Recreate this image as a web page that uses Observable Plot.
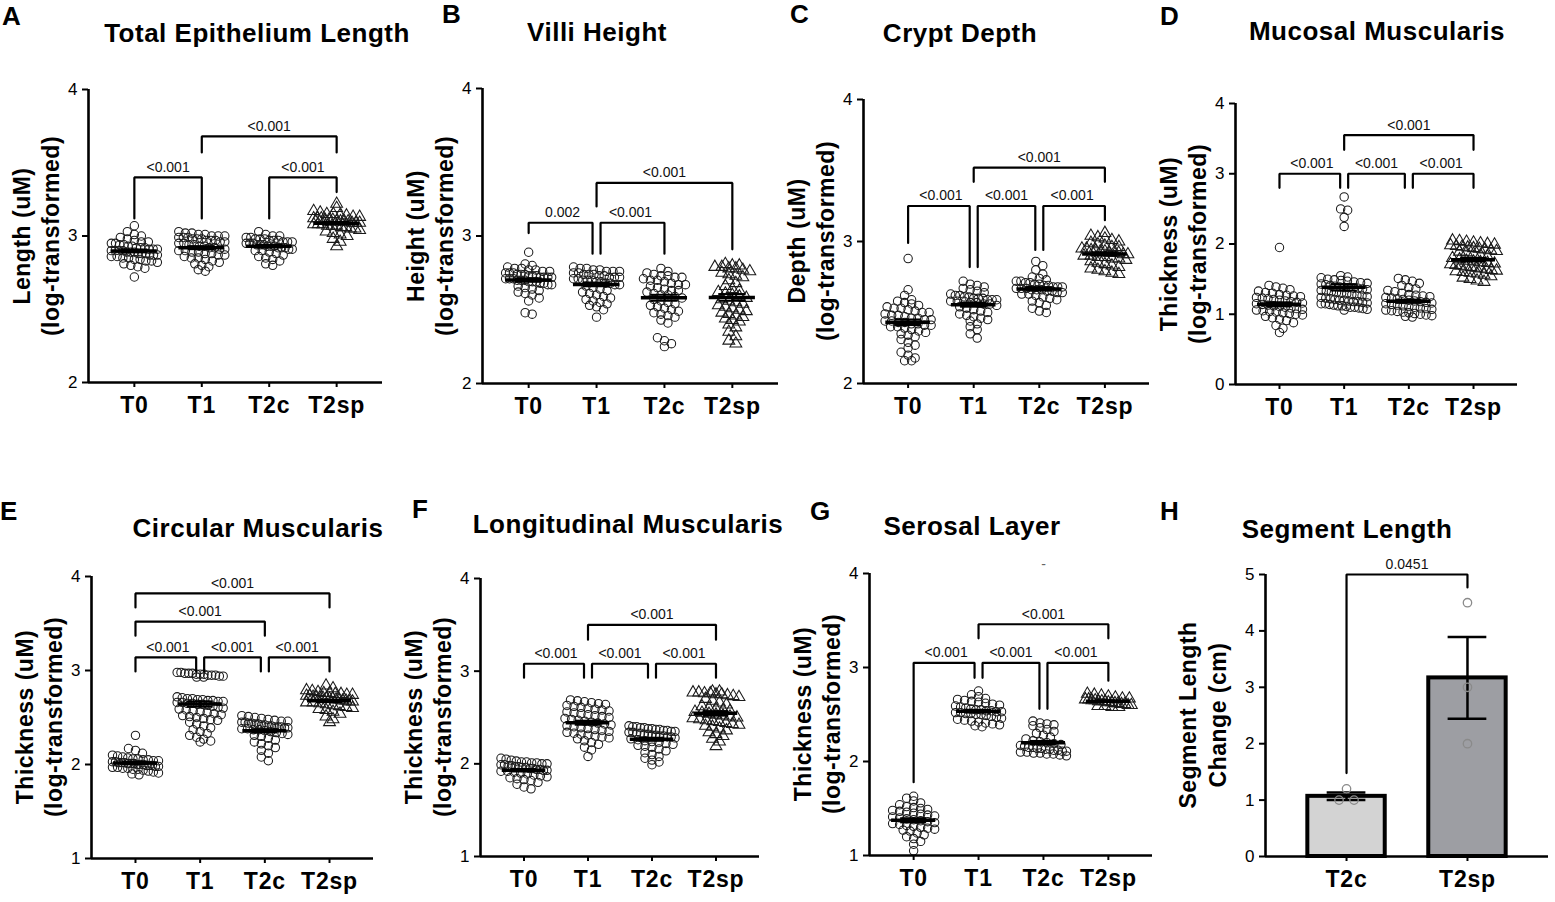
<!DOCTYPE html>
<html><head><meta charset="utf-8">
<script src="https://cdn.jsdelivr.net/npm/d3@7"></script>
<script src="https://cdn.jsdelivr.net/npm/@observablehq/plot@0.6"></script>
<style>
body{margin:0;background:#fff;font-family:"Liberation Sans",Arial,Helvetica,sans-serif;color:#000;}
#root{position:relative;width:1555px;height:902px;overflow:hidden;background:#fff;}
.lbl{position:absolute;font-weight:bold;font-size:26px;line-height:1;}
.ttl{position:absolute;font-weight:bold;font-size:26px;letter-spacing:0.5px;white-space:nowrap;transform:translateX(-50%);line-height:1;}
.ytl{position:absolute;font-weight:bold;font-size:23px;letter-spacing:0.5px;white-space:nowrap;transform:translate(-50%,-50%) rotate(-90deg);line-height:1;}
svg.pp{position:absolute;overflow:visible;}
svg.pp g[aria-label="x-axis tick label"]{letter-spacing:0.8px;font-size:23px;font-weight:bold;}
svg.pp g[aria-label="y-axis tick label"]{font-size:17px;}
svg.pp g[aria-label="text"]{font-size:14px;}
</style></head>
<body><div id="root"></div>
<script>
// ---------- data ----------
const groups = ["T0", "T1", "T2c", "T2sp"];
const segGroups = ["T2c", "T2sp"];
const panelLetters = ["A", "B", "C", "D", "E", "F", "G", "H"];
const panelTitles = ["Total Epithelium Length", "Villi Height", "Crypt Depth", "Mucosal Muscularis",
  "Circular Muscularis", "Longitudinal Muscularis", "Serosal Layer", "Segment Length"];
const yTitles = [["Length (uM)", "(log-transformed)"], ["Height (uM)", "(log-transformed)"],
  ["Depth (uM)", "(log-transformed)"], ["Thickness (uM)", "(log-transformed)"],
  ["Thickness (uM)", "(log-transformed)"], ["Thickness (uM)", "(log-transformed)"],
  ["Thickness (uM)", "(log-transformed)"], ["Segment Length", "Change (cm)"]];
const ticks24 = [2, 3, 4];
const ticks04 = [0, 1, 2, 3, 4];
const ticks14 = [1, 2, 3, 4];
const ticks05 = [0, 1, 2, 3, 4, 5];

// A: Total Epithelium Length
const epiT0 = [3.07,3.03,3.01,3.00,2.99,2.98,2.97,2.96,2.96,2.95,2.95,2.94,2.94,2.93,2.93,2.92,2.92,2.92,2.91,2.91,2.91,2.90,2.90,2.90,2.90,2.89,2.89,2.89,2.88,2.88,2.88,2.87,2.87,2.87,2.86,2.86,2.85,2.85,2.84,2.84,2.83,2.83,2.82,2.81,2.80,2.79,2.78,2.72];
const epiT1 = [3.03,3.02,3.02,3.01,3.01,3.00,3.00,3.00,2.99,2.99,2.99,2.98,2.98,2.98,2.97,2.97,2.97,2.96,2.96,2.95,2.95,2.94,2.94,2.93,2.93,2.92,2.92,2.91,2.91,2.90,2.90,2.89,2.89,2.88,2.88,2.87,2.87,2.86,2.85,2.85,2.84,2.83,2.82,2.81,2.80,2.79,2.77,2.76];
const epiT2c = [3.03,3.01,3.00,3.00,2.99,2.99,2.98,2.98,2.98,2.97,2.97,2.97,2.96,2.96,2.96,2.95,2.95,2.95,2.94,2.94,2.94,2.93,2.93,2.93,2.92,2.92,2.92,2.91,2.91,2.90,2.90,2.89,2.88,2.87,2.86,2.85,2.84,2.83,2.81,2.80];
const epiT2sp = [3.22,3.19,3.17,3.16,3.15,3.15,3.14,3.14,3.13,3.13,3.12,3.12,3.12,3.11,3.11,3.11,3.10,3.10,3.10,3.10,3.09,3.09,3.09,3.08,3.08,3.08,3.07,3.07,3.07,3.06,3.06,3.05,3.05,3.04,3.03,3.02,3.01,3.00,2.98,2.96,2.93];

// B: Villi Height
const villiT0 = [2.89,2.81,2.80,2.79,2.78,2.78,2.77,2.77,2.76,2.76,2.75,2.75,2.75,2.74,2.74,2.74,2.73,2.73,2.73,2.72,2.72,2.72,2.72,2.71,2.71,2.71,2.70,2.70,2.70,2.69,2.69,2.69,2.68,2.68,2.67,2.67,2.66,2.65,2.64,2.63,2.62,2.61,2.60,2.58,2.56,2.48,2.47];
const villiT1 = [2.79,2.78,2.78,2.77,2.77,2.76,2.76,2.76,2.75,2.75,2.74,2.74,2.74,2.73,2.73,2.72,2.72,2.72,2.71,2.71,2.70,2.70,2.70,2.69,2.69,2.68,2.68,2.67,2.67,2.66,2.65,2.64,2.63,2.62,2.61,2.60,2.59,2.58,2.57,2.56,2.55,2.54,2.53,2.52,2.50,2.45];
const villiT2c = [2.78,2.76,2.75,2.74,2.73,2.73,2.72,2.72,2.71,2.70,2.70,2.69,2.68,2.67,2.67,2.66,2.65,2.64,2.63,2.63,2.62,2.61,2.60,2.60,2.59,2.58,2.57,2.56,2.55,2.54,2.53,2.52,2.51,2.50,2.49,2.48,2.47,2.46,2.45,2.43,2.41,2.31,2.29,2.27,2.25];
const villiT2sp = [2.81,2.80,2.80,2.79,2.79,2.78,2.78,2.77,2.76,2.75,2.74,2.73,2.72,2.70,2.68,2.66,2.64,2.63,2.62,2.61,2.60,2.59,2.58,2.57,2.56,2.55,2.54,2.53,2.52,2.51,2.50,2.49,2.48,2.47,2.46,2.45,2.44,2.43,2.42,2.40,2.38,2.35,2.32,2.29,2.27];

// C: Crypt Depth
const cryptT0 = [2.88,2.66,2.62,2.59,2.58,2.57,2.56,2.55,2.54,2.53,2.53,2.52,2.51,2.50,2.50,2.49,2.48,2.48,2.47,2.46,2.46,2.45,2.45,2.44,2.44,2.43,2.43,2.42,2.42,2.41,2.41,2.40,2.40,2.39,2.38,2.37,2.36,2.35,2.34,2.33,2.31,2.29,2.27,2.25,2.22,2.20,2.18,2.16,2.16];
const cryptT1 = [2.72,2.70,2.69,2.68,2.67,2.66,2.65,2.64,2.63,2.62,2.62,2.61,2.61,2.60,2.60,2.60,2.59,2.59,2.59,2.58,2.58,2.58,2.57,2.57,2.56,2.56,2.55,2.54,2.53,2.52,2.51,2.50,2.49,2.48,2.47,2.46,2.45,2.44,2.42,2.40,2.38,2.35,2.32];
const cryptT2c = [2.86,2.83,2.80,2.77,2.75,2.74,2.73,2.72,2.72,2.71,2.71,2.70,2.70,2.69,2.69,2.68,2.68,2.68,2.67,2.67,2.67,2.66,2.66,2.66,2.65,2.65,2.64,2.64,2.63,2.63,2.62,2.61,2.60,2.59,2.58,2.57,2.55,2.53,2.51,2.50];
const cryptT2sp = [3.06,3.04,3.03,3.02,3.01,3.00,2.99,2.98,2.97,2.96,2.96,2.95,2.95,2.94,2.94,2.93,2.93,2.92,2.92,2.92,2.91,2.91,2.90,2.90,2.89,2.89,2.88,2.88,2.87,2.86,2.85,2.84,2.83,2.82,2.81,2.80,2.79,2.78,2.77];

// D: Mucosal Muscularis
const mucT0 = [1.95,1.41,1.39,1.37,1.35,1.33,1.31,1.30,1.28,1.27,1.26,1.25,1.24,1.23,1.22,1.21,1.20,1.19,1.18,1.17,1.16,1.15,1.14,1.13,1.12,1.11,1.10,1.09,1.08,1.07,1.06,1.05,1.04,1.03,1.02,1.01,1.00,0.99,0.97,0.95,0.93,0.91,0.88,0.84,0.80,0.74];
const mucT1 = [2.67,2.50,2.48,2.38,2.25,1.55,1.53,1.52,1.50,1.49,1.48,1.47,1.46,1.45,1.44,1.43,1.42,1.41,1.40,1.39,1.38,1.38,1.37,1.37,1.36,1.35,1.34,1.33,1.32,1.31,1.30,1.29,1.28,1.27,1.26,1.25,1.24,1.23,1.22,1.21,1.20,1.20,1.19,1.18,1.18,1.17,1.16,1.15,1.15,1.14,1.13,1.12,1.12,1.11,1.10,1.10,1.09,1.08,1.07,1.06];
const mucT2c = [1.51,1.49,1.47,1.44,1.41,1.38,1.36,1.34,1.32,1.30,1.28,1.27,1.26,1.25,1.24,1.23,1.22,1.21,1.20,1.19,1.18,1.17,1.16,1.15,1.14,1.13,1.12,1.11,1.10,1.09,1.08,1.07,1.06,1.05,1.04,1.03,1.02,1.01,1.00,0.99,0.98,0.97,0.96];
const mucT2sp = [2.05,2.04,2.03,2.02,2.01,2.00,1.99,1.98,1.97,1.96,1.95,1.94,1.93,1.92,1.91,1.90,1.89,1.88,1.86,1.84,1.82,1.80,1.78,1.76,1.75,1.74,1.73,1.72,1.71,1.70,1.69,1.68,1.67,1.66,1.65,1.64,1.63,1.62,1.61,1.60,1.59,1.58,1.56,1.54,1.52,1.50,1.48,1.46];

// E: Circular Muscularis
const circT0 = [2.31,2.17,2.15,2.12,2.10,2.09,2.08,2.07,2.06,2.06,2.05,2.05,2.04,2.04,2.03,2.03,2.02,2.02,2.02,2.01,2.01,2.01,2.00,2.00,2.00,1.99,1.99,1.99,1.98,1.98,1.97,1.97,1.96,1.96,1.95,1.95,1.94,1.93,1.92,1.91,1.90,1.89];
const circT1 = [2.98,2.98,2.97,2.97,2.97,2.96,2.96,2.96,2.95,2.95,2.95,2.94,2.94,2.93,2.93,2.72,2.71,2.70,2.70,2.69,2.69,2.68,2.68,2.67,2.67,2.66,2.66,2.65,2.65,2.64,2.64,2.63,2.62,2.61,2.60,2.59,2.58,2.57,2.56,2.55,2.54,2.53,2.52,2.51,2.50,2.49,2.48,2.47,2.45,2.43,2.41,2.39,2.37,2.35,2.33,2.31,2.29,2.27,2.25,2.24];
const circT2c = [2.52,2.51,2.50,2.49,2.48,2.47,2.46,2.46,2.45,2.45,2.44,2.44,2.43,2.43,2.42,2.42,2.41,2.41,2.40,2.40,2.40,2.39,2.39,2.38,2.38,2.37,2.37,2.36,2.35,2.34,2.33,2.32,2.31,2.30,2.28,2.26,2.24,2.22,2.20,2.18,2.15,2.12,2.08,2.04];
const circT2sp = [2.84,2.81,2.79,2.78,2.77,2.76,2.76,2.75,2.75,2.74,2.74,2.73,2.73,2.72,2.72,2.71,2.71,2.70,2.70,2.70,2.69,2.69,2.68,2.68,2.67,2.67,2.66,2.66,2.65,2.64,2.63,2.62,2.61,2.60,2.59,2.58,2.56,2.54,2.51,2.48,2.45];

// F: Longitudinal Muscularis
const longT0 = [2.06,2.05,2.04,2.03,2.02,2.02,2.01,2.01,2.00,2.00,1.99,1.99,1.98,1.98,1.97,1.97,1.96,1.96,1.95,1.95,1.94,1.94,1.93,1.93,1.92,1.92,1.91,1.90,1.89,1.88,1.87,1.86,1.85,1.84,1.83,1.82,1.80,1.78,1.75,1.73];
const longT1 = [2.69,2.68,2.67,2.66,2.65,2.64,2.63,2.62,2.61,2.60,2.59,2.58,2.57,2.56,2.55,2.54,2.53,2.52,2.51,2.50,2.49,2.48,2.47,2.46,2.45,2.44,2.43,2.42,2.41,2.40,2.39,2.38,2.37,2.36,2.35,2.34,2.33,2.32,2.31,2.30,2.29,2.28,2.27,2.25,2.23,2.21,2.18,2.15,2.08];
const longT2c = [2.41,2.40,2.40,2.39,2.39,2.38,2.38,2.37,2.37,2.36,2.36,2.35,2.35,2.34,2.34,2.33,2.33,2.32,2.32,2.31,2.31,2.30,2.30,2.29,2.29,2.28,2.27,2.26,2.25,2.24,2.23,2.22,2.21,2.20,2.19,2.18,2.16,2.14,2.12,2.10,2.08,2.06,2.04,2.02,1.99];
const longT2sp = [2.78,2.78,2.77,2.77,2.76,2.76,2.75,2.75,2.74,2.73,2.72,2.70,2.68,2.66,2.64,2.62,2.60,2.59,2.58,2.57,2.56,2.55,2.54,2.53,2.52,2.51,2.50,2.49,2.48,2.47,2.46,2.45,2.44,2.43,2.42,2.41,2.40,2.38,2.36,2.34,2.32,2.30,2.27,2.24,2.19];

// G: Serosal Layer
const serT0 = [1.63,1.61,1.58,1.56,1.54,1.52,1.51,1.50,1.49,1.48,1.47,1.46,1.45,1.44,1.43,1.42,1.41,1.40,1.39,1.38,1.37,1.36,1.35,1.34,1.33,1.32,1.31,1.30,1.29,1.28,1.27,1.26,1.24,1.22,1.20,1.18,1.15,1.12,1.05];
const serT1 = [2.75,2.71,2.69,2.67,2.66,2.65,2.64,2.63,2.62,2.61,2.60,2.59,2.58,2.57,2.56,2.55,2.55,2.54,2.54,2.53,2.53,2.52,2.52,2.51,2.51,2.50,2.50,2.49,2.48,2.47,2.46,2.45,2.44,2.43,2.42,2.41,2.40,2.39,2.38,2.37];
const serT2c = [2.43,2.41,2.40,2.39,2.38,2.36,2.34,2.32,2.30,2.28,2.26,2.24,2.22,2.21,2.20,2.19,2.18,2.17,2.16,2.15,2.15,2.14,2.14,2.13,2.13,2.12,2.12,2.11,2.11,2.10,2.10,2.09,2.09,2.08,2.08,2.07,2.06];
const serT2sp = [2.72,2.71,2.70,2.69,2.68,2.67,2.67,2.66,2.66,2.65,2.65,2.64,2.64,2.64,2.63,2.63,2.62,2.62,2.61,2.61,2.60,2.60,2.59,2.59,2.58,2.58];
const serStray = [{g: 2, v: 4.1, t: "-"}];

// H: Segment Length change (cm)
const segT2c = [1.2, 1.0, 1.0];
const segT2sp = [4.5, 3.0, 2.0];

// significance brackets: groups a,b; bar level y; leg ends ya, yb; label p
const bracketsA = [{a:0,b:1,y:3.40,ya:3.12,yb:3.12,p:"<0.001"},{a:2,b:3,y:3.40,ya:3.12,yb:3.30,p:"<0.001"},{a:1,b:3,y:3.68,ya:3.57,yb:3.57,p:"<0.001"}];
const bracketsB = [{a:0,b:1,y:3.09,ya:3.02,yb:2.88,p:"0.002"},{a:1,b:2,y:3.09,ya:2.88,yb:2.88,p:"<0.001"},{a:1,b:3,y:3.36,ya:3.20,yb:2.91,p:"<0.001"}];
const bracketsC = [{a:0,b:1,y:3.25,ya:2.99,yb:2.82,p:"<0.001"},{a:1,b:2,y:3.25,ya:2.82,yb:2.94,p:"<0.001"},{a:2,b:3,y:3.25,ya:2.94,yb:3.15,p:"<0.001"},{a:1,b:3,y:3.52,ya:3.42,yb:3.42,p:"<0.001"}];
const bracketsD = [{a:0,b:1,y:3.00,ya:2.80,yb:2.80,p:"<0.001"},{a:1,b:2,y:3.00,ya:2.80,yb:2.80,p:"<0.001"},{a:2,b:3,y:3.00,ya:2.80,yb:2.80,p:"<0.001"},{a:1,b:3,y:3.55,ya:3.34,yb:3.34,p:"<0.001"}];
const bracketsE = [{a:0,b:1,y:3.14,ya:2.99,yb:2.99,p:"<0.001"},{a:1,b:2,y:3.14,ya:2.99,yb:2.99,p:"<0.001"},{a:2,b:3,y:3.14,ya:2.99,yb:2.99,p:"<0.001"},{a:0,b:2,y:3.52,ya:3.37,yb:3.37,p:"<0.001"},{a:0,b:3,y:3.82,ya:3.67,yb:3.67,p:"<0.001"}];
const bracketsF = [{a:0,b:1,y:3.08,ya:2.93,yb:2.93,p:"<0.001"},{a:1,b:2,y:3.08,ya:2.93,yb:2.93,p:"<0.001"},{a:2,b:3,y:3.08,ya:2.93,yb:2.93,p:"<0.001"},{a:1,b:3,y:3.50,ya:3.34,yb:3.34,p:"<0.001"}];
const bracketsG = [{a:0,b:1,y:3.05,ya:1.78,yb:2.89,p:"<0.001"},{a:1,b:2,y:3.05,ya:2.89,yb:2.56,p:"<0.001"},{a:2,b:3,y:3.05,ya:2.56,yb:2.86,p:"<0.001"},{a:1,b:3,y:3.46,ya:3.31,yb:3.31,p:"<0.001"}];
const bracketsH = [{a:0,b:1,y:5.0,ya:1.48,yb:4.77,p:"0.0451"}];

// ---------- layout & drawing ----------
const FONT = '"Liberation Sans", Arial, Helvetica, sans-serif';
const root = document.getElementById("root");

function addDiv(cls, text, left, top) {
  const d = document.createElement("div");
  d.className = cls; d.textContent = text;
  d.style.left = left + "px"; d.style.top = top + "px";
  root.appendChild(d);
}

function swarm(values, pxY, binPx, step, maxHalf) {
  const idx = d3.range(values.length).sort((i, j) => values[j] - values[i]);
  const bins = d3.group(idx, i => Math.round(values[i] * pxY / binPx));
  const off = new Array(values.length).fill(0);
  for (const [, members] of bins) {
    const k = members.length;
    const s = k > 1 ? Math.min(step, 2 * maxHalf / (k - 1)) : 0;
    members.forEach((m, j) => off[m] = (j - (k - 1) / 2) * s);
  }
  return off;
}

function bracketPoints(brs, inset) {
  const pts = [];
  brs.forEach((b, k) => {
    const shareA = brs.some((o, j) => j !== k && o.y === b.y && (o.a === b.a || o.b === b.a));
    const shareB = brs.some((o, j) => j !== k && o.y === b.y && (o.a === b.b || o.b === b.b));
    const xa = b.a + (shareA ? inset : 0), xb = b.b - (shareB ? inset : 0);
    pts.push({k, x: xa, y: b.ya}, {k, x: xa, y: b.y}, {k, x: xb, y: b.y}, {k, x: xb, y: b.yb});
  });
  return pts;
}

function panel(cfg) {
  const {L, R, T, B, yDomain, yTicks, series, cats, brackets, bars, extra} = cfg;
  const pad = cfg.pad ?? 0.68;
  const n = cats.length;
  const mL = 40, mR = 12, mT = 40, mB = 48;
  const pxX = (R - L) / (n - 1 + 2 * pad);
  const pxY = (B - T) / (yDomain[1] - yDomain[0]);
  const step = cfg.step ?? 7, binPx = cfg.binPx ?? 6.5, maxHalf = cfg.maxHalf ?? 23;

  const dots = [];
  const stats = [];
  series.forEach((vals, i) => {
    const off = swarm(vals, pxY, binPx, step, maxHalf);
    vals.forEach((v, j) => dots.push({g: i, x: i + off[j] / pxX, v, tri: cats[i] === "T2sp" && !bars}));
    const m = d3.mean(vals);
    const se = d3.deviation(vals) / Math.sqrt(vals.length);
    stats.push({g: i, m, lo: m - se, hi: m + se});
  });

  const marks = [];
  if (bars) {
    marks.push(Plot.rectY(stats, {x1: d => d.g - 0.32, x2: d => d.g + 0.32, y1: 0, y2: "m",
      fill: d => bars[d.g], stroke: "#000", strokeWidth: 4}));
    marks.push(Plot.ruleX(stats, {x: "g", y1: "lo", y2: "hi", strokeWidth: 2.5}));
    marks.push(Plot.ruleY(stats, {x1: d => d.g - 0.16, x2: d => d.g + 0.16, y: "hi", strokeWidth: 2.5}));
    marks.push(Plot.ruleY(stats, {x1: d => d.g - 0.16, x2: d => d.g + 0.16, y: "lo", strokeWidth: 2.5}));
    marks.push(Plot.dot(dots, {x: "x", y: "v", r: 4.2, stroke: "#8a8a8a", strokeWidth: 1.3, fill: "none"}));
  } else {
    marks.push(Plot.dot(dots.filter(d => !d.tri), {x: "x", y: "v", r: 4.2, stroke: "#1a1a1a", strokeWidth: 1.05, fill: "none"}));
    marks.push(Plot.dot(dots.filter(d => d.tri), {x: "x", y: "v", r: 4.4, symbol: "triangle", stroke: "#1a1a1a", strokeWidth: 1.05, fill: "none"}));
    marks.push(Plot.ruleY(stats, {x1: d => d.g - 0.34, x2: d => d.g + 0.34, y: "m", strokeWidth: 3.5}));
    marks.push(Plot.ruleX(stats, {x: "g", y1: "lo", y2: "hi", strokeWidth: 2}));
    marks.push(Plot.ruleY(stats, {x1: d => d.g - 0.2, x2: d => d.g + 0.2, y: "hi", strokeWidth: 2}));
    marks.push(Plot.ruleY(stats, {x1: d => d.g - 0.2, x2: d => d.g + 0.2, y: "lo", strokeWidth: 2}));
  }
  // axes
  marks.push(Plot.ruleY([yDomain[0]], {x1: -pad, x2: n - 1 + pad, strokeWidth: 2.6}));
  marks.push(Plot.ruleX([-pad], {y1: yDomain[0], y2: yDomain[1], strokeWidth: 2.6}));
  marks.push(Plot.axisY({ticks: yTicks, tickSize: 6, tickPadding: 5, fontSize: 17, strokeWidth: 2, label: null, tickFormat: d3.format("d")}));
  marks.push(Plot.axisX({ticks: d3.range(n), tickSize: 5, tickPadding: 9, fontSize: 23, fontWeight: "bold", strokeWidth: 2, label: null, tickFormat: i => cats[i]}));
  // brackets
  const bp = bracketPoints(brackets, 4 / pxX);
  marks.push(Plot.line(bp, {x: "x", y: "y", z: "k", strokeWidth: 2.2, strokeLinejoin: "miter", curve: "linear"}));
  marks.push(Plot.text(brackets, {x: d => (d.a + d.b) / 2, y: "y", text: "p", dy: -10, fontSize: 14, fill: "#111"}));
  if (extra) marks.push(Plot.text(extra, {x: "g", y: "v", text: "t", fontSize: 12, fill: "#666"}));

  const svg = Plot.plot({
    width: R - L + mL + mR, height: B - T + mT + mB,
    marginLeft: mL, marginRight: mR, marginTop: mT, marginBottom: mB,
    x: {domain: [-pad, n - 1 + pad]},
    y: {domain: yDomain},
    style: {fontFamily: FONT, color: "#000", background: "transparent"},
    marks
  });
  svg.classList.add("pp");
  svg.style.left = (L - mL) + "px";
  svg.style.top = (T - mT) + "px";
  root.appendChild(svg);
}

// panel frames (axis pixel positions)
const frames = [
  {L: 88, R: 382, T: 89, B: 382},
  {L: 482, R: 778, T: 88, B: 383},
  {L: 863, R: 1149, T: 99, B: 383},
  {L: 1235, R: 1517, T: 103, B: 384},
  {L: 91, R: 373, T: 576, B: 858},
  {L: 480, R: 759, T: 578, B: 856},
  {L: 869, R: 1152, T: 573, B: 855},
  {L: 1265, R: 1548, T: 574, B: 856}
];

panel({...frames[0], yDomain: [2, 4], yTicks: ticks24, cats: groups, series: [epiT0, epiT1, epiT2c, epiT2sp], brackets: bracketsA});
panel({...frames[1], yDomain: [2, 4], yTicks: ticks24, cats: groups, series: [villiT0, villiT1, villiT2c, villiT2sp], brackets: bracketsB});
panel({...frames[2], yDomain: [2, 4], yTicks: ticks24, cats: groups, series: [cryptT0, cryptT1, cryptT2c, cryptT2sp], brackets: bracketsC});
panel({...frames[3], yDomain: [0, 4], yTicks: ticks04, cats: groups, series: [mucT0, mucT1, mucT2c, mucT2sp], brackets: bracketsD});
panel({...frames[4], yDomain: [1, 4], yTicks: ticks14, cats: groups, series: [circT0, circT1, circT2c, circT2sp], brackets: bracketsE});
panel({...frames[5], yDomain: [1, 4], yTicks: ticks14, cats: groups, series: [longT0, longT1, longT2c, longT2sp], brackets: bracketsF});
panel({...frames[6], yDomain: [1, 4], yTicks: ticks14, cats: groups, series: [serT0, serT1, serT2c, serT2sp], brackets: bracketsG, extra: serStray});
panel({...frames[7], yDomain: [0, 5], yTicks: ticks05, cats: segGroups, series: [segT2c, segT2sp], brackets: bracketsH,
  bars: ["#d3d3d3", "#9d9ea3"], pad: 0.67, step: 15, binPx: 6, maxHalf: 20});

// letters, titles, y-titles
const letterPos = [[2, 3], [442, 1], [790, 1], [1160, 3], [0, 498], [412, 496], [810, 498], [1160, 498]];
const titlePos = [[257, 42], [597, 41], [960, 42], [1377, 40], [258, 537], [628, 533], [972, 535], [1347, 538]];
panelLetters.forEach((t, i) => addDiv("lbl", t, letterPos[i][0], letterPos[i][1]));
panelTitles.forEach((t, i) => addDiv("ttl", t, titlePos[i][0], titlePos[i][1] - 22));
yTitles.forEach((lines, i) => {
  const f = frames[i];
  const cy = (f.T + f.B) / 2;
  const o1 = i === 7 ? 77 : 66, o2 = i === 7 ? 47 : 37;
  addDiv("ytl", lines[0], f.L - o1, cy);
  addDiv("ytl", lines[1], f.L - o2, cy);
});
</script></body></html>
